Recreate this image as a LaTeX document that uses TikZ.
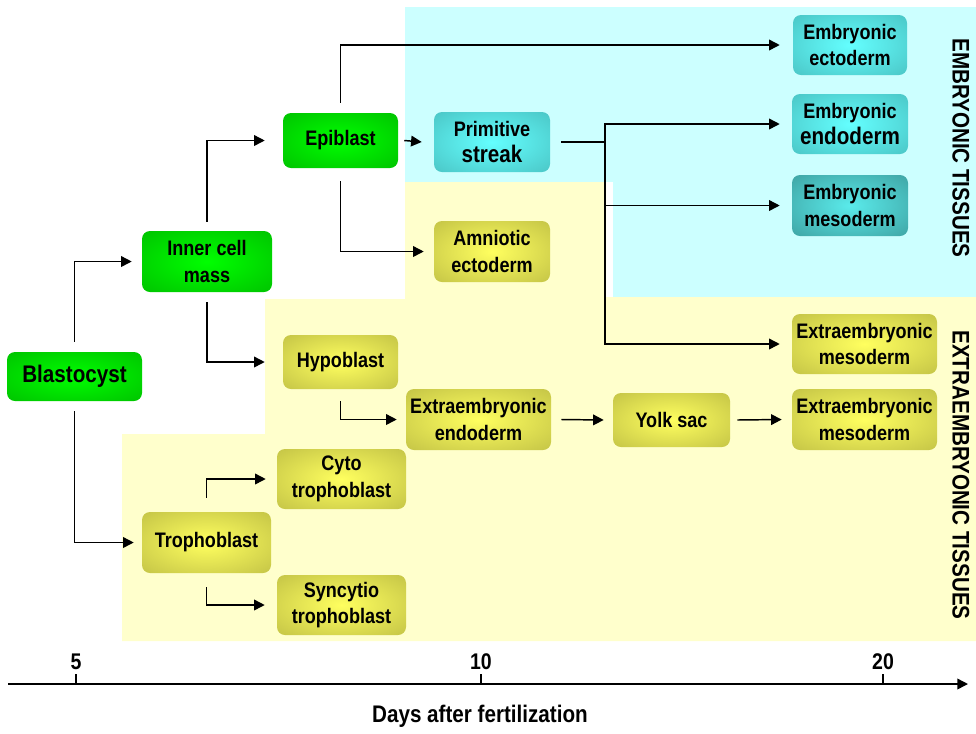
\documentclass[tikz,border=0pt]{standalone}
\usepackage{fontspec}
\setmainfont{Liberation Sans}[FakeStretch=0.86]
\usetikzlibrary{arrows.meta,calc}
\definecolor{bgcyan}{RGB}{204,255,255}
\definecolor{bgyellow}{RGB}{255,255,204}
\definecolor{gout}{RGB}{0,185,0}
\definecolor{gin}{RGB}{0,255,0}
\definecolor{oout}{RGB}{186,186,66}
\definecolor{oin}{RGB}{255,255,95}
\definecolor{tout}{RGB}{70,188,188}
\definecolor{tin}{RGB}{100,255,255}
\definecolor{dout}{RGB}{58,152,152}
\definecolor{din}{RGB}{90,235,235}
\pgfdeclareradialshading{greenball}{\pgfpoint{0bp}{0bp}}{color(0bp)=(gin); color(42bp)=(gout); color(50bp)=(gout)}
\pgfdeclareradialshading{oliveball}{\pgfpoint{0bp}{0bp}}{color(0bp)=(oin); color(42bp)=(oout); color(50bp)=(oout)}
\pgfdeclareradialshading{tealball}{\pgfpoint{0bp}{0bp}}{color(0bp)=(tin); color(42bp)=(tout); color(50bp)=(tout)}
\pgfdeclareradialshading{darkball}{\pgfpoint{0bp}{0bp}}{color(0bp)=(din); color(42bp)=(dout); color(50bp)=(dout)}
\begin{document}
\begin{tikzpicture}[x=0.75pt,y=-0.75pt,
  box/.style={rounded corners=6pt, inner sep=0pt, align=center,
    font=\bfseries\fontsize{15.75}{20}\selectfont},
  gbox/.style={box, shading=greenball},
  obox/.style={box, shading=oliveball},
  tbox/.style={box, shading=tealball},
  dbox/.style={box, shading=darkball},
  arr/.style={line width=1.1pt, -{Triangle[length=8pt,width=8pt]}},
  ln/.style={line width=1.1pt},
  big/.style={font=\bfseries\fontsize{18}{20}\selectfont}]
\path[use as bounding box] (0,0) rectangle (976,733);
% backgrounds
\fill[bgcyan] (405,7) rectangle (976,182);
\fill[bgcyan] (613,182) rectangle (976,297);
\fill[bgyellow] (122,641) -- (122,434) -- (265,434) -- (265,299) -- (405,299) -- (405,182)
  -- (606,182) -- (606,297) -- (976,297) -- (976,641) -- cycle;
% nodes
\node[gbox, minimum width=101.25pt, minimum height=36.75pt, font=\bfseries\fontsize{18}{20}\selectfont] (blast) at (74.5,376.5) {Blastocyst};
\node[gbox, minimum width=97.5pt, minimum height=45.75pt] (icm) at (207,261.5) {Inner cell\\mass};
\node[gbox, minimum width=86.25pt, minimum height=41.25pt] (epi) at (340.5,140.5) {Epiblast};
\node[obox, minimum width=86.25pt, minimum height=40.5pt] (hypo) at (340.5,362) {Hypoblast};
\node[obox, minimum width=96.75pt, minimum height=45pt] (cyto) at (341.5,479) {Cyto\\trophoblast};
\node[obox, minimum width=96.75pt, minimum height=45pt] (syn) at (341.5,605) {Syncytio\\trophoblast};
\node[obox, minimum width=96.75pt, minimum height=45.75pt] (troph) at (206.5,542.5) {Trophoblast};
\node[tbox, minimum width=87pt, minimum height=45pt] (ps) at (492,142) {Primitive\\{\fontsize{18}{20}\selectfont streak}};
\node[obox, minimum width=87pt, minimum height=45.75pt] (amn) at (492,251.5) {Amniotic\\ectoderm};
\node[obox, minimum width=108.75pt, minimum height=45.75pt] (xendo) at (478.5,419.5) {Extraembryonic\\endoderm};
\node[obox, minimum width=87.75pt, minimum height=40.5pt] (yolk) at (671.5,420) {Yolk sac};
\node[tbox, minimum width=85.5pt, minimum height=45pt] (eecto) at (850,45) {Embryonic\\ectoderm};
\node[tbox, minimum width=87pt, minimum height=45pt] (eendo) at (850,124) {Embryonic\\{\fontsize{18}{20}\selectfont endoderm}};
\node[dbox, minimum width=87pt, minimum height=45.75pt] (emeso) at (850,205.5) {Embryonic\\mesoderm};
\node[obox, minimum width=108.75pt, minimum height=45pt] (xmesoa) at (864.5,344) {Extraembryonic\\mesoderm};
\node[obox, minimum width=108.75pt, minimum height=45.75pt] (xmesob) at (864.5,419.5) {Extraembryonic\\mesoderm};
% side labels
\node[big, rotate=-90] (embt) at (961,148) {EMBRYONIC TISSUES};
\node[big, rotate=-90] (xembt) at (961,475) {EXTRAEMBRYONIC TISSUES};
% connectors
\draw[arr] ($(blast.north)+(0,-10)$) |- ($(icm.west)+(-10,0)$);
\draw[arr] ($(blast.south)+(0,10)$) |- ($(troph.west)+(-8,0)$);
\draw[arr] ($(icm.north)+(0,-9)$) |- ($(epi.west)+(-18,0)$);
\draw[arr] ($(icm.south)+(0,10)$) |- ($(hypo.west)+(-18,0)$);
\draw[arr] ($(epi.north)+(0,-10)$) |- ($(eecto.west)+(-13,0)$);
\draw[arr] ($(epi.east)+(6,0)$) -- ($(ps.west)+(-12,0)$);
\draw[arr] ($(epi.south)+(0,13)$) |- ($(amn.west)+(-10,0)$);
\coordinate (br) at (605,142);
\draw[ln] ($(ps.east)+(11,0)$) -- (br);
\draw[arr] (br) |- ($(eendo.west)+(-12,0)$);
\draw[arr] (br) |- ($(emeso.west)+(-12,0)$);
\draw[arr] (br) |- ($(xmesoa.west)+(-12,0)$);
\draw[arr] ($(hypo.south)+(0,12)$) |- ($(xendo.west)+(-9,0)$);
\draw[arr] ($(xendo.east)+(10,0)$) -- ($(yolk.west)+(-9,0)$);
\draw[arr] ($(yolk.east)+(7,0)$) -- ($(xmesob.west)+(-10,0)$);
\draw[arr] ($(troph.north)+(0,-14)$) |- ($(cyto.west)+(-11,0)$);
\draw[arr] ($(troph.south)+(0,14)$) |- ($(syn.west)+(-12,0)$);
% time axis
\coordinate (ax0) at (8,684);
\coordinate (ax1) at (968,684);
\draw[arr] (ax0) -- (ax1);
\foreach \xx/\lab/\nm in {76/5/ta,481/10/tb,883/20/tc}{
  \draw[ln] (\xx,684) -- (\xx,674);
  \node[font=\bfseries\fontsize{17}{20}\selectfont] (\nm) at (\xx,662) {\lab};
}
\node[big] (axlab) at (480,716) {Days after fertilization};
\end{tikzpicture}
\end{document}
